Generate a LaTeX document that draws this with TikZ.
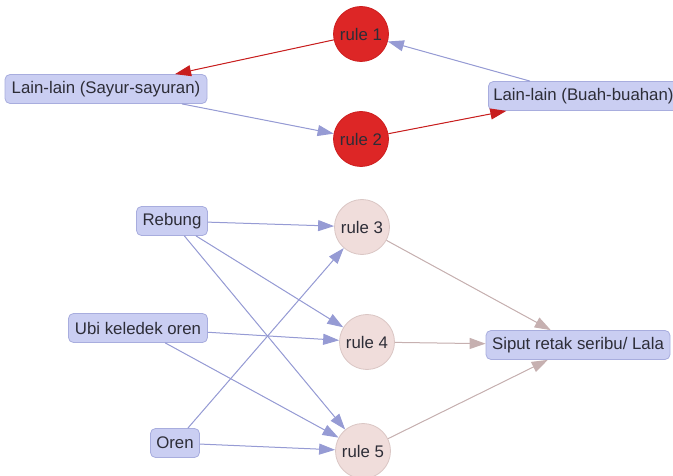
\documentclass[tikz,border=0pt]{standalone}
\usepackage{fontspec}
\setmainfont{Liberation Sans}
\usetikzlibrary{arrows.meta}
\definecolor{boxfill}{RGB}{202,206,242}
\definecolor{boxline}{RGB}{168,173,222}
\definecolor{hotfill}{RGB}{221,38,38}
\definecolor{hotline}{RGB}{205,30,30}
\definecolor{palefill}{RGB}{240,221,219}
\definecolor{paleline}{RGB}{218,198,196}
\definecolor{edgeblue}{RGB}{150,155,212}
\definecolor{edgered}{RGB}{200,30,30}
\definecolor{edgepale}{RGB}{198,176,176}
\definecolor{ink}{RGB}{45,45,55}
\begin{document}
\begin{tikzpicture}[x=1pt,y=-1pt,
  every node/.style={font=\fontsize{16.8}{19}\selectfont, text=ink},
  itembox/.style={draw=boxline, fill=boxfill, rounded corners=5pt,
    minimum height=29pt, inner sep=2pt, line width=0.8pt},
  hotrule/.style={circle, draw=hotline, fill=hotfill, minimum size=55pt,
    inner sep=0pt, line width=0.8pt},
  palerule/.style={circle, draw=paleline, fill=palefill, minimum size=55pt,
    inner sep=0pt, line width=0.8pt},
  link/.style={line width=1pt, -{Triangle[length=16pt,width=11pt]}},
  blink/.style={link, draw=edgeblue, fill=edgeblue},
  rlink/.style={link, draw=edgered, fill=edgered},
  plink/.style={link, draw=edgepale, fill=edgepale}]
\useasboundingbox (0,0) rectangle (673,476);

% upper group
\node[hotrule] (r1) at (361,34) {rule 1};
\node[hotrule] (r2) at (361,139) {rule 2};
\node[itembox, minimum width=202pt] (sayur) at (106,89) {Lain-lain (Sayur-sayuran)};
\node[itembox, minimum width=190pt, anchor=west] (buah) at (488,96) {Lain-lain (Buah-buahan)};

\draw[rlink] (r1) -- (sayur);
\draw[blink] (buah) -- (r1);
\draw[blink] (sayur) -- (r2);
\draw[rlink] (r2) -- (buah);

% lower group
\node[itembox, minimum width=71pt] (rebung) at (172,221) {Rebung};
\node[itembox, minimum width=139pt] (ubi) at (138,328) {Ubi keledek oren};
\node[itembox, minimum width=49pt] (oren) at (175,443) {Oren};
\node[palerule] (r3) at (362,227) {rule 3};
\node[palerule] (r4) at (367,342) {rule 4};
\node[palerule] (r5) at (363,451) {rule 5};
\node[itembox, minimum width=184pt] (siput) at (578,345) {Siput retak seribu/ Lala};

\draw[blink] (rebung) -- (r3);
\draw[blink] (rebung) -- (r4);
\draw[blink] (rebung) -- (r5);
\draw[blink] (ubi) -- (r4);
\draw[blink] (ubi) -- (r5);
\draw[blink] (oren) -- (r3);
\draw[blink] (oren) -- (r5);
\draw[plink] (r3) -- (siput);
\draw[plink] (r4) -- (siput);
\draw[plink] (r5) -- (siput);
\end{tikzpicture}
\end{document}
